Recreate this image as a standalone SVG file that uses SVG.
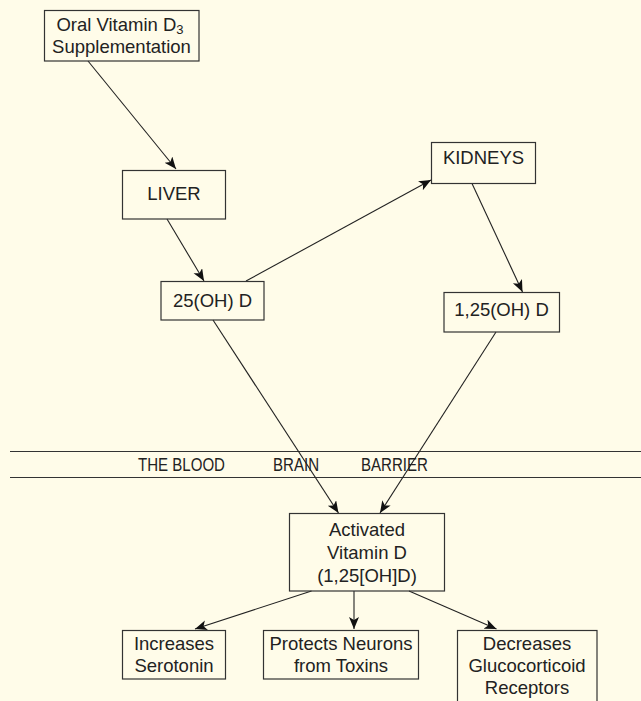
<svg xmlns="http://www.w3.org/2000/svg" width="641" height="701" viewBox="0 0 641 701">
  <style>
    .box { fill: none; stroke: #333; stroke-width: 1.2; }
    .lbl { font-family: "Liberation Sans", Arial, sans-serif; font-size: 18.5px; fill: #222; text-anchor: middle; }
    .bar { font-family: "Liberation Sans", Arial, sans-serif; font-size: 17.5px; fill: #222; }
    .edge { stroke: #222; stroke-width: 1.1; fill: none; marker-end: url(#arrow); }
    .wall { stroke: #333; stroke-width: 1.2; }
  </style>
  <defs>
    <marker id="arrow" markerUnits="userSpaceOnUse" markerWidth="14" markerHeight="12" refX="12" refY="5" orient="auto">
      <path d="M0,0 L12,5 L0,10 L3,5 z" fill="#111"/>
    </marker>
  </defs>
  <rect x="0" y="0" width="641" height="701" fill="#fffce9"/>

  <!-- blood-brain barrier band -->
  <g id="barrier">
    <line class="wall" x1="10" y1="451.5" x2="641" y2="451.5"/>
    <line class="wall" x1="10" y1="477.5" x2="641" y2="477.5"/>
    <text class="bar" x="138" y="471" textLength="87" lengthAdjust="spacingAndGlyphs">THE BLOOD</text>
    <text class="bar" x="273" y="471" textLength="46" lengthAdjust="spacingAndGlyphs">BRAIN</text>
    <text class="bar" x="361" y="471" textLength="67" lengthAdjust="spacingAndGlyphs">BARRIER</text>
  </g>

  <g id="connectors">
    <line class="edge" x1="88" y1="61" x2="176" y2="169"/>
    <line class="edge" x1="167" y1="219" x2="204" y2="281"/>
    <line class="edge" x1="246" y1="281" x2="431" y2="180"/>
    <line class="edge" x1="472" y1="183.5" x2="522.5" y2="292"/>
    <line class="edge" x1="213" y1="320" x2="338.5" y2="513"/>
    <line class="edge" x1="496" y1="332" x2="380" y2="513"/>
    <line class="edge" x1="311.5" y1="591" x2="195" y2="629"/>
    <line class="edge" x1="354" y1="591" x2="354" y2="629"/>
    <line class="edge" x1="409" y1="591" x2="496.5" y2="629"/>
  </g>

  <g id="oral">
    <rect class="box" x="44.5" y="10.5" width="154.5" height="50.5"/>
    <text class="lbl" x="120" y="31">Oral Vitamin D<tspan font-size="13" dy="3">3</tspan></text>
    <text class="lbl" x="121.5" y="53">Supplementation</text>
  </g>

  <g id="liver">
    <rect class="box" x="122.5" y="170.5" width="103" height="48.5"/>
    <text class="lbl" x="174" y="200">LIVER</text>
  </g>

  <g id="hydroxy">
    <rect class="box" x="161" y="281.5" width="103" height="38.5"/>
    <text class="lbl" x="212.5" y="306.5">25(OH) D</text>
  </g>

  <g id="kidneys">
    <rect class="box" x="431.5" y="142.5" width="104" height="41"/>
    <text class="lbl" x="483.5" y="164">KIDNEYS</text>
  </g>

  <g id="dihydroxy">
    <rect class="box" x="444" y="292.5" width="115.5" height="39.5"/>
    <text class="lbl" x="501.5" y="316">1,25(OH) D</text>
  </g>

  <g id="activated">
    <rect class="box" x="289.5" y="513.5" width="155" height="77.5"/>
    <text class="lbl" x="367" y="536">Activated</text>
    <text class="lbl" x="367" y="559">Vitamin D</text>
    <text class="lbl" x="367" y="582">(1,25[OH]D)</text>
  </g>

  <g id="serotonin">
    <rect class="box" x="122.5" y="630.5" width="103" height="48.5"/>
    <text class="lbl" x="174" y="650">Increases</text>
    <text class="lbl" x="174" y="672">Serotonin</text>
  </g>

  <g id="neurons">
    <rect class="box" x="263.5" y="630.5" width="155" height="48.5"/>
    <text class="lbl" x="341" y="650">Protects Neurons</text>
    <text class="lbl" x="341" y="672">from Toxins</text>
  </g>

  <g id="receptors">
    <rect class="box" x="457.5" y="630.5" width="139.5" height="72"/>
    <text class="lbl" x="527" y="650">Decreases</text>
    <text class="lbl" x="527" y="672">Glucocorticoid</text>
    <text class="lbl" x="527" y="694">Receptors</text>
  </g>
</svg>
